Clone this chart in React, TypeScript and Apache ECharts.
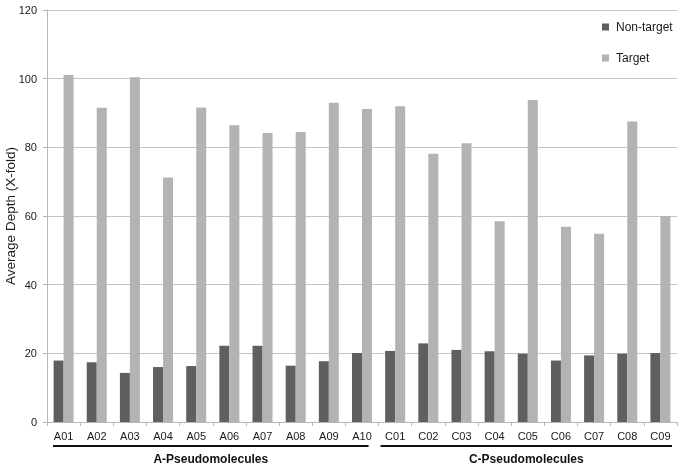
import React, { useEffect, useRef } from "react";
import * as echarts from "echarts";

const categories = ["A01","A02","A03","A04","A05","A06","A07","A08","A09","A10","C01","C02","C03","C04","C05","C06","C07","C08","C09"];
const nonTarget = [17.9,17.4,14.3,16.0,16.3,22.2,22.2,16.4,17.7,20.1,20.7,22.9,21.0,20.6,19.9,17.9,19.4,19.9,20.1];
const target = [101.1,91.5,100.4,71.2,91.6,86.4,84.2,84.5,93.0,91.2,92.0,78.1,81.2,58.5,93.8,56.9,54.8,87.5,60.0];
const seriesNames = ["Non-target", "Target"];
const groupNames = ["A-Pseudomolecules", "C-Pseudomolecules"];
const groupFrom = ["A01", "C01"];
const groupTo = ["A10", "C09"];
const yTicks = { min: 0, max: 120, interval: 20 };

const FONT = "Liberation Sans, Arial, sans-serif";

export default function App() {
  const ref = useRef<HTMLDivElement>(null);
  useEffect(() => {
    const chart = echarts.init(ref.current!, undefined, { renderer: "svg" });
    chart.setOption({
      animation: false,
      textStyle: { fontFamily: FONT },
      grid: { left: 47, right: 6, top: 10, bottom: 47, containLabel: false, outerBoundsMode: "none" },
      legend: {
        orient: "vertical",
        left: 602,
        top: 21,
        padding: 0,
        itemWidth: 7,
        itemHeight: 7,
        itemGap: 19,
        icon: "rect",
        align: "left",
        backgroundColor: "#fff",
        textStyle: { fontSize: 12, color: "#1a1a1a", fontFamily: FONT, padding: [0, 0, 0, 2] },
        data: seriesNames,
      },
      xAxis: {
        type: "category",
        data: categories,
        axisLine: { lineStyle: { color: "#b8b8b8", width: 1 } },
        axisTick: { show: true, length: 4, lineStyle: { color: "#b8b8b8" } },
        axisLabel: { fontSize: 11, color: "#1a1a1a", margin: 8, fontFamily: FONT },
      },
      yAxis: {
        type: "value",
        min: yTicks.min,
        max: yTicks.max,
        interval: yTicks.interval,
        name: "Average Depth (X-fold)",
        nameLocation: "middle",
        nameGap: 30,
        nameMoveOverlap: false,
        nameTextStyle: { fontSize: 13.5, color: "#1a1a1a", fontFamily: FONT },
        axisLine: { show: true, lineStyle: { color: "#b8b8b8" } },
        axisTick: { show: true, length: 4, lineStyle: { color: "#b8b8b8" } },
        axisLabel: { fontSize: 11, color: "#1a1a1a", margin: 10, fontFamily: FONT },
        splitLine: { lineStyle: { color: "#c4c4c4", width: 1 } },
      },
      series: [
        { name: seriesNames[0], type: "bar", data: nonTarget, barWidth: 10, barGap: "0%", itemStyle: { color: "#5f5f5f" } },
        { name: seriesNames[1], type: "bar", data: target, barWidth: 10, barGap: "0%", itemStyle: { color: "#b3b3b3" } },
      ],
    });

    const px = (c: string) => chart.convertToPixel({ xAxisIndex: 0 }, c) as number;
    const half = (px(categories[1]) - px(categories[0])) / 2;
    const zeroY = chart.convertToPixel({ yAxisIndex: 0 }, 0) as number;
    const lineY = zeroY + 24;
    const textY = zeroY + 37;
    const insets = [[6, 10], [2, 5]];
    const elements: any[] = [];
    groupNames.forEach((name, i) => {
      const x1 = px(groupFrom[i]) - half + insets[i][0];
      const x2 = px(groupTo[i]) + half - insets[i][1];
      elements.push({
        type: "line",
        shape: { x1, y1: lineY, x2, y2: lineY },
        style: { stroke: "#111", lineWidth: 2 },
      });
      elements.push({
        type: "text",
        x: (x1 + x2) / 2,
        y: textY,
        style: {
          text: name,
          fontSize: 12,
          fontWeight: "bold",
          fill: "#111",
          fontFamily: FONT,
          align: "center",
          verticalAlign: "middle",
        },
      });
    });
    chart.setOption({ graphic: elements });

    return () => chart.dispose();
  }, []);
  return <div ref={ref} style={{ position: "fixed", left: 0, top: 0, width: 683, height: 469 }} />;
}
